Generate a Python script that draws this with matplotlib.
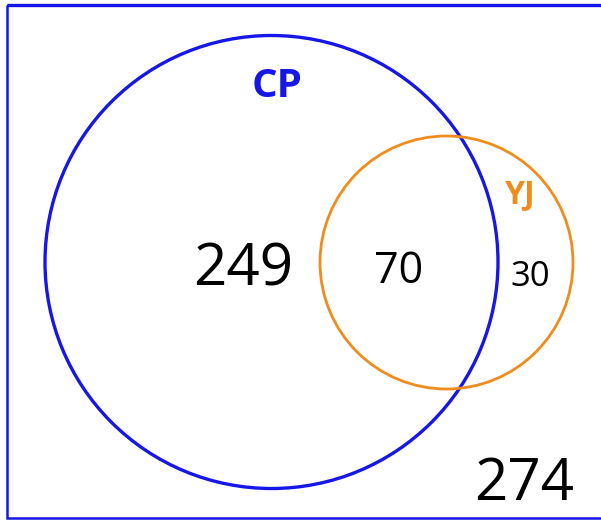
import matplotlib
matplotlib.use("Agg")
import matplotlib.pyplot as plt
from matplotlib.patches import Circle, Rectangle

# Venn data
set_names = ["CP", "YJ"]
only_cp = 249
both = 70
only_yj = 30
neither = 274

blue = "#1616e8"
orange = "#f08c1e"

# Layout in pixel coordinates
cp_center, cp_radius = (271.5, 262), 226.5
yj_center, yj_radius = (446.5, 262.5), 126.5

fig = plt.figure(figsize=(6.01, 5.21), dpi=100)
ax = fig.add_axes([0, 0, 1, 1])
ax.set_xlim(0, 601)
ax.set_ylim(521, 0)
ax.set_aspect("equal")
ax.axis("off")

# outer frame (top edge a bit heavier)
ax.add_patch(Rectangle((7, 4.5), 600, 513.5, fill=False, edgecolor=blue, lw=1.8))
ax.plot([7, 601], [4.5, 4.5], color=blue, lw=2.4, solid_capstyle="butt")

# circles
ax.add_patch(Circle(cp_center, cp_radius, fill=False, edgecolor=blue, lw=2.4))
ax.add_patch(Circle(yj_center, yj_radius, fill=False, edgecolor=orange, lw=2.0))

font = "Open Sans"

# set names
ax.text(277, 97, set_names[0], color=blue, fontsize=29, fontweight="bold",
        family=font, ha="center", va="baseline")
ax.text(520, 203, set_names[1], color=orange, fontsize=23, fontweight="bold",
        family=font, ha="center", va="baseline")

# counts
ax.text(243.5, 285, str(only_cp), fontsize=42, family=font, ha="center", va="baseline")
ax.text(399, 283, str(both), fontsize=31, family=font, ha="center", va="baseline")
ax.text(530.5, 286, str(only_yj), fontsize=25, family=font, ha="center", va="baseline")
ax.text(524.5, 500, str(neither), fontsize=42, family=font, ha="center", va="baseline")

fig.savefig("out.png", dpi=100, facecolor="white")
